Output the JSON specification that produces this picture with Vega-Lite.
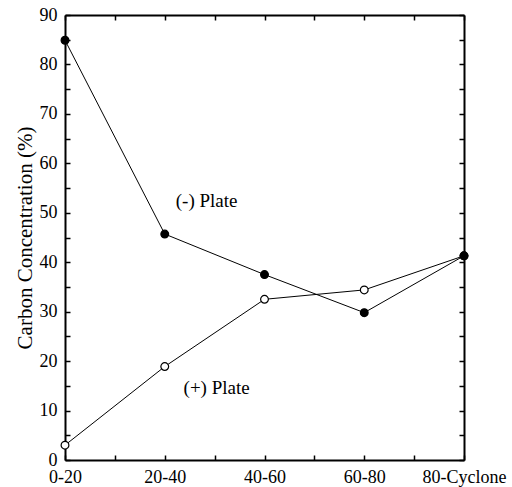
{
  "$schema": "https://vega.github.io/schema/vega-lite/v6.json",
  "width": 399,
  "height": 445,
  "autosize": {"type": "none"},
  "padding": {"left": 65, "top": 15, "right": 48, "bottom": 27},
  "data": {"values": [
    {"kind": "pt", "size_range": "0-20", "idx": 0, "plate": "(+) Plate", "carbon": 3.0},
    {"kind": "pt", "size_range": "20-40", "idx": 1, "plate": "(+) Plate", "carbon": 18.9},
    {"kind": "pt", "size_range": "40-60", "idx": 2, "plate": "(+) Plate", "carbon": 32.5},
    {"kind": "pt", "size_range": "60-80", "idx": 3, "plate": "(+) Plate", "carbon": 34.4},
    {"kind": "pt", "size_range": "80-Cyclone", "idx": 4, "plate": "(+) Plate", "carbon": 41.3},
    {"kind": "pt", "size_range": "0-20", "idx": 0, "plate": "(-) Plate", "carbon": 84.9},
    {"kind": "pt", "size_range": "20-40", "idx": 1, "plate": "(-) Plate", "carbon": 45.7},
    {"kind": "pt", "size_range": "40-60", "idx": 2, "plate": "(-) Plate", "carbon": 37.5},
    {"kind": "pt", "size_range": "60-80", "idx": 3, "plate": "(-) Plate", "carbon": 29.8},
    {"kind": "pt", "size_range": "80-Cyclone", "idx": 4, "plate": "(-) Plate", "carbon": 41.3},
    {"kind": "label", "plate": "(-) Plate", "idx": 1.42, "carbon": 52.3},
    {"kind": "label", "plate": "(+) Plate", "idx": 1.52, "carbon": 14.6}
  ]},
  "layer": [
    {
      "transform": [{"filter": "datum.kind == 'pt'"}],
      "mark": {"type": "line", "color": "black", "strokeWidth": 1},
      "encoding": {
        "x": {
          "field": "idx", "type": "quantitative",
          "scale": {"domain": [0, 4], "nice": false, "zero": false},
          "axis": {
            "orient": "bottom", "title": null, "grid": false,
            "labelFont": "Liberation Serif", "labelFontSize": 18, "labelColor": "black",
            "domainColor": "black", "domainWidth": 2, "tickColor": "black", "tickWidth": 1.5,
            "labelOverlap": false, "labelBound": false, "labelFlush": false,
            "values": [0, 0.5, 1, 1.5, 2, 2.5, 3, 3.5, 4],
            "tickSize": -5,
            "labelPadding": 13,
            "labelExpr": "datum.value % 1 == 0 ? ['0-20','20-40','40-60','60-80','80-Cyclone'][datum.value] : ''"
          }
        },
        "y": {
          "field": "carbon", "type": "quantitative",
          "scale": {"domain": [0, 90], "nice": false},
          "axis": {
            "orient": "left", "title": "Carbon Concentration (%)", "grid": false,
            "labelFont": "Liberation Serif", "labelFontSize": 18, "labelColor": "black",
            "titleFont": "Liberation Serif", "titleFontSize": 21, "titleFontWeight": "normal", "titleColor": "black",
            "domainColor": "black", "domainWidth": 2, "tickColor": "black", "tickWidth": 1.5,
            "labelOverlap": false, "labelBound": false, "labelFlush": false,
            "values": [0, 5, 10, 15, 20, 25, 30, 35, 40, 45, 50, 55, 60, 65, 70, 75, 80, 85, 90],
            "tickSize": -5,
            "labelPadding": 13,
            "titlePadding": 4,
            "labelExpr": "datum.value % 10 == 0 ? datum.label : ''"
          }
        },
        "detail": {"field": "plate"}
      }
    },
    {
      "transform": [{"filter": "datum.kind == 'pt'"}],
      "mark": {"type": "point", "shape": "circle", "filled": true, "stroke": "black", "strokeWidth": 1.2, "size": 60, "opacity": 1},
      "encoding": {
        "x": {
          "field": "idx", "type": "quantitative",
          "axis": {
            "orient": "top", "title": null, "labels": false, "grid": false,
            "domainColor": "black", "domainWidth": 2, "tickColor": "black", "tickWidth": 1.5,
            "values": [0, 0.5, 1, 1.5, 2, 2.5, 3, 3.5, 4],
            "tickSize": -5
          }
        },
        "y": {
          "field": "carbon", "type": "quantitative",
          "axis": {
            "orient": "right", "title": null, "labels": false, "grid": false,
            "domainColor": "black", "domainWidth": 2, "tickColor": "black", "tickWidth": 1.5,
            "values": [0, 5, 10, 15, 20, 25, 30, 35, 40, 45, 50, 55, 60, 65, 70, 75, 80, 85, 90],
            "tickSize": -5
          }
        },
        "fill": {
          "field": "plate", "type": "nominal",
          "scale": {"domain": ["(-) Plate", "(+) Plate"], "range": ["black", "white"]},
          "legend": null
        }
      }
    },
    {
      "transform": [{"filter": "datum.kind == 'label'"}],
      "mark": {"type": "text", "fontSize": 19, "font": "Liberation Serif"},
      "encoding": {
        "x": {"field": "idx", "type": "quantitative", "axis": null},
        "y": {"field": "carbon", "type": "quantitative", "axis": null},
        "text": {"field": "plate"}
      }
    }
  ],
  "config": {"view": {"stroke": null}},
  "resolve": {"axis": {"x": "independent", "y": "independent"}}
}
